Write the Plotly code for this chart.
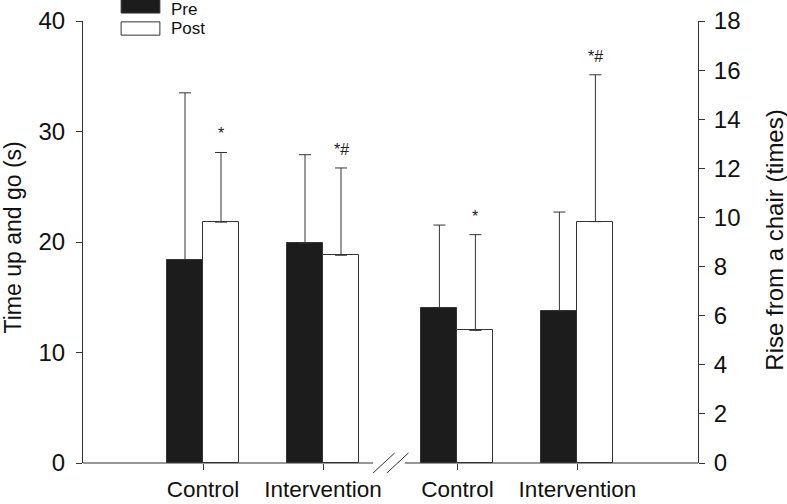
import plotly.graph_objects as go

# ---- data ----
groups = ["Control", "Intervention", "Control", "Intervention"]
group_pos = [1.0, 2.0, 3.12, 4.12]          # positions on the x axis (break between 2 and 3)

# Time up and go (s) – left axis
tug_pre = [18.4, 19.9]
tug_pre_sd = [15.1, 8.0]
tug_post = [21.8, 18.8]
tug_post_sd = [6.3, 7.9]

# Rise from a chair (times) – right axis
rise_pre = [6.32, 6.20]
rise_pre_sd = [3.37, 4.02]
rise_post = [5.40, 9.83]
rise_post_sd = [3.90, 5.98]

sig_labels = ["*", "*#", "*", "*#"]          # above the Post bars

left_ticks = [0, 10, 20, 30, 40]
right_ticks = [0, 2, 4, 6, 8, 10, 12, 14, 16, 18]

# ---- style ----
FONT = "Arial, Liberation Sans, Helvetica, sans-serif"
LINE = "#333333"
DARK = "#1c1c1c"
BW = 0.3
XMAX = 5.125
YMAX_L = 40
YMAX_R = 18
PLOT_H = 442

fig = go.Figure()

def bar(x, y, sd, fill, name, yaxis, offset):
    return go.Bar(
        x=x, y=y, width=BW, offset=offset, name=name, yaxis=yaxis,
        marker=dict(color=fill, line=dict(color=LINE, width=1)),
        error_y=dict(type="data", array=sd, arrayminus=[0] * len(sd), symmetric=False,
                     color=LINE, thickness=1, width=6),
        showlegend=False,
    )

fig.add_trace(bar(group_pos[:2], tug_pre, tug_pre_sd, DARK, "Pre", "y", -BW))
fig.add_trace(bar(group_pos[:2], tug_post, tug_post_sd, "white", "Post", "y", 0))
fig.add_trace(bar(group_pos[2:], rise_pre, rise_pre_sd, DARK, "Pre", "y2", -BW))
fig.add_trace(bar(group_pos[2:], rise_post, rise_post_sd, "white", "Post", "y2", 0))

# significance markers above Post error bars
post_tops = [v + s for v, s in zip(tug_post, tug_post_sd)] + [v + s for v, s in zip(rise_post, rise_post_sd)]
for i, (xp, top, lab) in enumerate(zip(group_pos, post_tops, sig_labels)):
    fig.add_annotation(x=xp + BW / 2, y=top, yref="y" if i < 2 else "y2", text=lab,
                       showarrow=False, xanchor="center", yanchor="bottom", yshift=8,
                       font=dict(family=FONT, size=16, color="#222"))

# x-axis line with a break between the two outcome groups
brk = (group_pos[1] + group_pos[2]) / 2 - 0.038
g0 = (brk - 0.105) / XMAX
g1 = (brk + 0.16) / XMAX
fig.add_shape(type="line", xref="paper", yref="paper", x0=0, x1=g0, y0=0, y1=0,
              line=dict(color=LINE, width=1))
fig.add_shape(type="line", xref="paper", yref="paper", x0=g1, x1=1, y0=0, y1=0,
              line=dict(color=LINE, width=1))
dy = 10 / PLOT_H
for dx in (-0.105, 0.01):
    xa = (brk + dx) / XMAX
    xb = (brk + dx + 0.18) / XMAX
    fig.add_shape(type="line", xref="paper", yref="paper", x0=xa, x1=xb,
                  y0=-dy, y1=dy, line=dict(color=LINE, width=1))

# legend drawn as wide swatches
fig.add_shape(type="rect", xref="paper", yref="paper", x0=0.062, x1=0.125, y0=1.018, y1=1.06,
              fillcolor=DARK, line=dict(color=LINE, width=1))
fig.add_shape(type="rect", xref="paper", yref="paper", x0=0.062, x1=0.125, y0=0.968, y1=0.998,
              fillcolor="white", line=dict(color=LINE, width=1))
fig.add_annotation(x=0.14, y=1.027, xref="paper", yref="paper", text="Pre", showarrow=False,
                   xanchor="left", yanchor="middle", font=dict(family=FONT, size=17, color="#111"))
fig.add_annotation(x=0.14, y=0.983, xref="paper", yref="paper", text="Post", showarrow=False,
                   xanchor="left", yanchor="middle", font=dict(family=FONT, size=17, color="#111"))

# axis titles
fig.add_annotation(x=-0.114, y=0.51, xref="paper", yref="paper", text="Time up and go (s)",
                   textangle=-90, showarrow=False, xanchor="center", yanchor="middle",
                   font=dict(family=FONT, size=23, color="#111"))
fig.add_annotation(x=1.125, y=0.505, xref="paper", yref="paper", text="Rise from a chair (times)",
                   textangle=-90, showarrow=False, xanchor="center", yanchor="middle",
                   font=dict(family=FONT, size=24, color="#111"))

fig.update_layout(
    template="none",
    width=787, height=504,
    margin=dict(l=83, r=89, t=21, b=41, autoexpand=False),
    paper_bgcolor="white", plot_bgcolor="white",
    barmode="overlay", bargap=0,
    font=dict(family=FONT, size=24, color="#111"),
    xaxis=dict(range=[0, XMAX], tickvals=group_pos, ticktext=groups, ticks="outside",
               ticklen=6, tickcolor=LINE, showline=False, showgrid=False, zeroline=False,
               tickfont=dict(size=22.5), ticklabelstandoff=0, automargin=False, fixedrange=True),
    yaxis=dict(range=[0, YMAX_L], tickvals=left_ticks, ticks="outside", ticklen=6,
               tickcolor=LINE, showline=True, linecolor=LINE, linewidth=1, showgrid=False,
               zeroline=False, tickfont=dict(size=24), ticklabelstandoff=6, automargin=False),
    yaxis2=dict(range=[0, YMAX_R], tickvals=right_ticks, ticks="outside", ticklen=6,
                tickcolor=LINE, showline=True, linecolor=LINE, linewidth=1, showgrid=False,
                zeroline=False, overlaying="y", side="right", anchor="x", tickfont=dict(size=24),
                ticklabelstandoff=4, automargin=False),
)

fig.write_html("out.html", config={"displayModeBar": False},
               post_script="document.body.style.margin='0';document.body.style.overflow='hidden';")
